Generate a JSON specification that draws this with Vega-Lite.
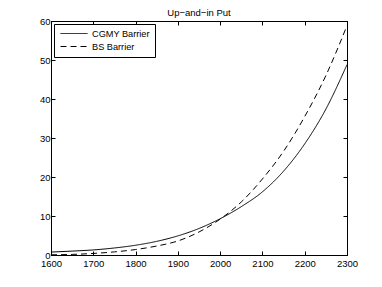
{
  "$schema": "https://vega.github.io/schema/vega-lite/v6.json",
  "width": 296,
  "height": 234,
  "autosize": {"type": "none"},
  "padding": {"left": 51, "top": 21, "right": 35, "bottom": 32},
  "background": "white",
  "title": {"text": "Up−and−in Put", "fontSize": 9.5, "font": "Liberation Sans", "fontWeight": "normal", "color": "black", "offset": -1, "anchor": "middle"},
  "config": {
    "view": {"stroke": "black", "strokeWidth": 1},
    "axis": {"domain": true, "domainColor": "black", "grid": false, "tickColor": "black", "tickSize": -4, "labelColor": "black", "labelFont": "Liberation Sans", "labelFontSize": 9.5, "labelPadding": 7, "labelFlush": false, "labelOverlap": false, "title": null}
  },
  "data": {"values": [
    {"s": 1600, "v": 0.75, "m": "CGMY Barrier"},
    {"s": 1650, "v": 1.0, "m": "CGMY Barrier"},
    {"s": 1700, "v": 1.3, "m": "CGMY Barrier"},
    {"s": 1750, "v": 1.8, "m": "CGMY Barrier"},
    {"s": 1800, "v": 2.5, "m": "CGMY Barrier"},
    {"s": 1850, "v": 3.5, "m": "CGMY Barrier"},
    {"s": 1900, "v": 4.9, "m": "CGMY Barrier"},
    {"s": 1950, "v": 6.8, "m": "CGMY Barrier"},
    {"s": 2000, "v": 9.3, "m": "CGMY Barrier"},
    {"s": 2050, "v": 12.4, "m": "CGMY Barrier"},
    {"s": 2100, "v": 16.2, "m": "CGMY Barrier"},
    {"s": 2150, "v": 21.5, "m": "CGMY Barrier"},
    {"s": 2200, "v": 28.5, "m": "CGMY Barrier"},
    {"s": 2250, "v": 37.4, "m": "CGMY Barrier"},
    {"s": 2300, "v": 48.8, "m": "CGMY Barrier"},
    {"s": 1600, "v": 0.05, "m": "BS Barrier"},
    {"s": 1650, "v": 0.15, "m": "BS Barrier"},
    {"s": 1700, "v": 0.4, "m": "BS Barrier"},
    {"s": 1750, "v": 0.8, "m": "BS Barrier"},
    {"s": 1800, "v": 1.4, "m": "BS Barrier"},
    {"s": 1850, "v": 2.3, "m": "BS Barrier"},
    {"s": 1900, "v": 3.6, "m": "BS Barrier"},
    {"s": 1950, "v": 5.9, "m": "BS Barrier"},
    {"s": 2000, "v": 9.2, "m": "BS Barrier"},
    {"s": 2050, "v": 13.6, "m": "BS Barrier"},
    {"s": 2100, "v": 19.5, "m": "BS Barrier"},
    {"s": 2150, "v": 26.6, "m": "BS Barrier"},
    {"s": 2200, "v": 35.5, "m": "BS Barrier"},
    {"s": 2250, "v": 46.0, "m": "BS Barrier"},
    {"s": 2300, "v": 58.8, "m": "BS Barrier"}
  ]},
  "layer": [
    {
      "mark": {"type": "line", "color": "black", "strokeWidth": 1, "interpolate": "monotone"},
      "encoding": {
        "x": {"field": "s", "type": "quantitative", "scale": {"domain": [1600, 2300], "nice": false}, "axis": {"values": [1600,1700,1800,1900,2000,2100,2200,2300], "format": "d", "orient": "bottom"}},
        "y": {"field": "v", "type": "quantitative", "scale": {"domain": [0, 60], "nice": false}, "axis": {"values": [0,10,20,30,40,50,60], "orient": "left", "labelPadding": 5}},
        "strokeDash": {"field": "m", "type": "nominal", "scale": {"domain": ["CGMY Barrier", "BS Barrier"], "range": [[1, 0], [6, 4]]},
          "legend": {"title": null, "orient": "top-left", "offset": 3, "symbolType": "M-3,0H3", "symbolStrokeColor": "black", "symbolFillColor": "transparent", "symbolStrokeWidth": 1, "symbolSize": 81, "labelFont": "Liberation Sans", "labelFontSize": 9.2, "labelColor": "black", "labelOffset": 13, "strokeColor": "black", "fillColor": "white", "padding": 4.5, "rowPadding": 2, "symbolOffset": 10.5}}
      }
    },
    {
      "mark": {"type": "line", "opacity": 0},
      "encoding": {
        "x": {"field": "s", "type": "quantitative", "scale": {"domain": [1600, 2300], "nice": false}, "axis": {"values": [1600,1700,1800,1900,2000,2100,2200,2300], "orient": "top", "labels": false, "labelPadding": 0}},
        "y": {"field": "v", "type": "quantitative", "scale": {"domain": [0, 60], "nice": false}, "axis": {"values": [0,10,20,30,40,50,60], "orient": "right", "labels": false}}
      }
    }
  ],
  "resolve": {"axis": {"x": "independent", "y": "independent"}}
}
